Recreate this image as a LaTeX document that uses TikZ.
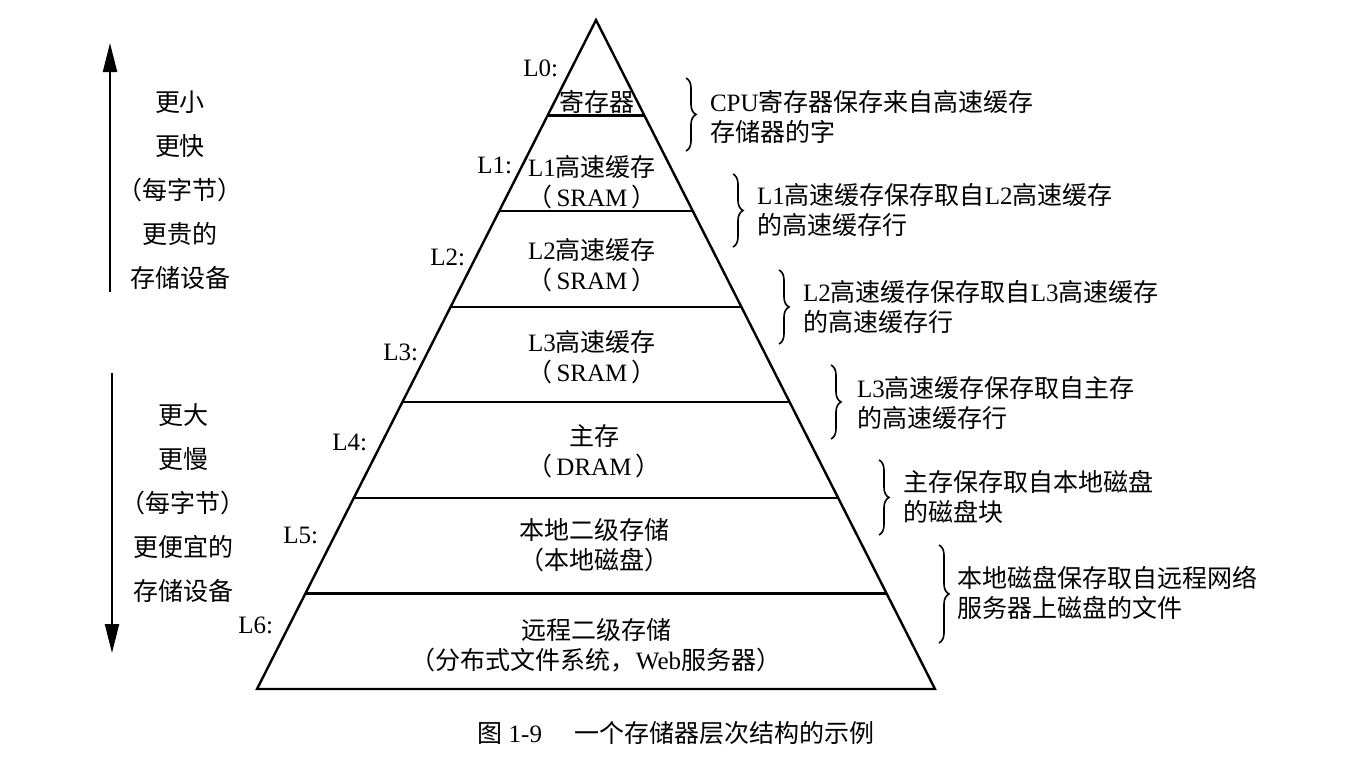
\documentclass[tikz,border=0pt]{standalone}
\usepackage{fontspec}
\setmainfont{Liberation Serif}
\newfontfamily\cjk{Noto Sans CJK SC}
\usetikzlibrary{arrows.meta,decorations.pathreplacing,calc}
\newcommand{\zh}[1]{{\cjk #1}}
\newcommand{\pin}[1]{\zh{（}\hspace{2pt}#1\hspace{2pt}\zh{）}}
\begin{document}
\begin{tikzpicture}[x=0.5pt,y=-0.5pt,
  every node/.style={inner sep=0pt, outer sep=0pt, font=\fontsize{12.5pt}{15pt}\selectfont},
  tier/.style={line width=1.2pt},
  lvl/.style={anchor=east},
  body/.style={align=center},
  note/.style={anchor=west, align=left},
  sidetext/.style={align=center, font=\fontsize{12.5pt}{22pt}\selectfont},
  brc/.style={decorate, decoration={brace, amplitude=5pt}, line width=0.8pt},
  bigarrow/.style={line width=1.1pt, -{Triangle[length=14.5pt,width=7pt]}},
]
\useasboundingbox (0,0) rectangle (1346,782);
\fill[white] (0,0) rectangle (1346,782);

% pyramid
\coordinate (apex) at (596,20);
\coordinate (bl) at (257,689);
\coordinate (br) at (935,689);
\draw[tier, line join=miter] (apex) -- (br) -- (bl) -- cycle;
\foreach \k in {1,...,6}
  \draw[tier] ($(apex)!\k/7!(bl)$) -- ($(apex)!\k/7!(br)$);

% level labels
\node[lvl] (l0) at (558,68)  {L0:};
\node[lvl] (l1) at (512,165) {L1:};
\node[lvl] (l2) at (465,257) {L2:};
\node[lvl] (l3) at (418,352) {L3:};
\node[lvl] (l4) at (367,442) {L4:};
\node[lvl] (l5) at (318,535) {L5:};
\node[lvl] (l6) at (273,625) {L6:};

% level contents
\node[body] (t0) at (597,102) {\zh{寄存器}};
\node[body] (t1) at (592,182) {L1\zh{高速缓存}\\\pin{SRAM}};
\node[body] (t2) at (592,265) {L2\zh{高速缓存}\\\pin{SRAM}};
\node[body] (t3) at (592,357) {L3\zh{高速缓存}\\\pin{SRAM}};
\node[body] (t4) at (594,451) {\zh{主存}\\\pin{DRAM}};
\node[body] (t5) at (594,545) {\zh{本地二级存储}\\\zh{（本地磁盘）}};
\node[body] (t6) at (596,645) {\zh{远程二级存储}\\\zh{（分布式文件系统，}Web\zh{服务器）}};

% braces
\draw[brc] (686,78) -- (686,151);
\draw[brc] (733,174) -- (733,247);
\draw[brc] (779,270) -- (779,344);
\draw[brc] (831,365) -- (831,439);
\draw[brc] (879,460) -- (879,535);
\draw[brc] (939,545) -- (939,643);

% notes
\node[note] (n0) at (710,117) {CPU\zh{寄存器保存来自高速缓存}\\\zh{存储器的字}};
\node[note] (n1) at (757,210) {L1\zh{高速缓存保存取自}L2\zh{高速缓存}\\\zh{的高速缓存行}};
\node[note] (n2) at (803,307) {L2\zh{高速缓存保存取自}L3\zh{高速缓存}\\\zh{的高速缓存行}};
\node[note] (n3) at (857,403) {L3\zh{高速缓存保存取自主存}\\\zh{的高速缓存行}};
\node[note] (n4) at (903,497) {\zh{主存保存取自本地磁盘}\\\zh{的磁盘块}};
\node[note] (n5) at (957,593) {\zh{本地磁盘保存取自远程网络}\\\zh{服务器上磁盘的文件}};

% left side
\coordinate (ua0) at (110,292);
\coordinate (ua1) at (110,43);
\draw[bigarrow] (ua0) -- (ua1);
\coordinate (da0) at (112,373);
\coordinate (da1) at (112,653);
\draw[bigarrow] (da0) -- (da1);
\node[sidetext] (up) at (180,190) {\zh{更小}\\\zh{更快}\\\zh{（每字节）}\\\zh{更贵的}\\\zh{存储设备}};
\node[sidetext] (down) at (183,503) {\zh{更大}\\\zh{更慢}\\\zh{（每字节）}\\\zh{更便宜的}\\\zh{存储设备}};

% caption
\node[font=\fontsize{12.5pt}{14pt}\selectfont] (cap) at (676,733) {\zh{图} 1-9\hspace{1.3em}\zh{一个存储器层次结构的示例}};
\end{tikzpicture}
\end{document}
